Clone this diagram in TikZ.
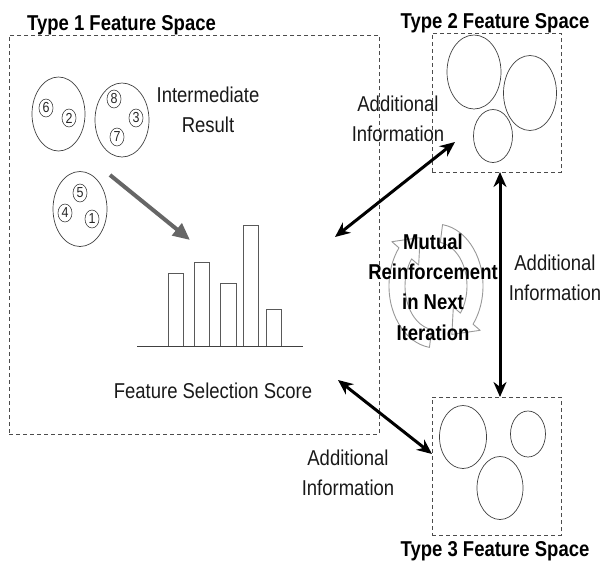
\documentclass[tikz,border=0pt]{standalone}
\usepackage{fontspec}
\setmainfont[FakeStretch=0.86]{Liberation Sans}
\usetikzlibrary{arrows.meta,shapes.geometric}
\tikzset{
  fsbox/.style={draw=black!70, dash pattern=on 4pt off 3pt, line width=0.8pt, minimum width=#1, inner sep=0pt},
  grp/.style={draw=black!75, ellipse, line width=0.7pt, inner sep=0pt},
  num/.style={draw=black!75, ellipse, line width=0.6pt, inner sep=0pt, minimum width=14pt, minimum height=18pt, font=\fontsize{14.5}{14.5}\selectfont, text=black!85},
  lbl/.style={font=\fontsize{21.5}{30}\selectfont, text=black!90, align=center, inner sep=0pt},
  ttl/.style={font=\bfseries\fontsize{21.5}{26}\selectfont, text=black, inner sep=0pt, anchor=base},
  barst/.style={draw=black!65, line width=0.8pt},
  dblarrow/.style={{Stealth[length=15pt,width=13pt]}-{Stealth[length=15pt,width=13pt]}, line width=3pt, black},
  grayarrow/.style={-{Triangle[length=17pt,width=15pt]}, line width=4pt, black!60},
  cyc/.style={draw=black!40, fill=white, line width=0.9pt, line join=round}
}
\begin{document}
\begin{tikzpicture}[x=1pt,y=-1pt]
\useasboundingbox (0,0) rectangle (603,565);

% feature space boxes
\node[fsbox=370pt, minimum height=399pt] (t1) at (194,234.5) {};
\node[fsbox=129pt, minimum height=139pt] (t2) at (496.5,102.5) {};
\node[fsbox=129pt, minimum height=138pt] (t3) at (496.5,466) {};

% titles
\node[ttl] (ti1) at (121.5,30) {Type 1 Feature Space};
\node[ttl] (ti2) at (495,28) {Type 2 Feature Space};
\node[ttl] (ti3) at (495,556) {Type 3 Feature Space};

% type 1 groups
\node[grp, minimum width=53pt, minimum height=74pt] (ga) at (58.5,114) {};
\node[grp, minimum width=54pt, minimum height=74pt] (gb) at (122,120) {};
\node[grp, minimum width=54pt, minimum height=75pt] (gc) at (80,209) {};
\node[num] (n6) at (46,108) {6};
\node[num] (n2) at (69,118) {2};
\node[num] (n8) at (114,99) {8};
\node[num] (n3) at (136,118) {3};
\node[num] (n7) at (117,137) {7};
\node[num] (n5) at (80,193) {5};
\node[num] (n4) at (65,213) {4};
\node[num] (n1) at (92,219) {1};

\node[lbl, anchor=base] (ir) at (208,132) {Intermediate\\Result};

% bars
\draw[barst] (168,346) rectangle (183,273);
\draw[barst] (194,346) rectangle (209,262);
\draw[barst] (220,346) rectangle (236,283);
\draw[barst] (243,346) rectangle (258,225);
\draw[barst] (266,346) rectangle (281,309);
\draw[line width=0.9pt, black!75] (137,346) -- (303,346);
\node[lbl, anchor=base] (fss) at (213,398) {Feature Selection Score};

% gray arrow
\coordinate (gs) at (110,175);
\coordinate (ge) at (190,240);
\draw[grayarrow] (gs) -- (ge);

% type 2 groups
\node[grp, minimum width=54pt, minimum height=74pt] (e21) at (474,72) {};
\node[grp, minimum width=53pt, minimum height=75pt] (e22) at (530,93) {};
\node[grp, minimum width=39pt, minimum height=53pt] (e23) at (493,136) {};

% type 3 groups
\node[grp, minimum width=47pt, minimum height=63pt] (e31) at (463,437) {};
\node[grp, minimum width=35pt, minimum height=46pt] (e32) at (528,434) {};
\node[grp, minimum width=46pt, minimum height=63pt] (e33) at (500,488) {};

% cycle arrows
\def\cx{436}\def\cy{286}
\draw[cyc] ({\cx+47*cos(98)},{\cy+62*sin(98)}) arc[start angle=98,end angle=218,x radius=47,y radius=62]
  -- ({\cx+56*cos(218)},{\cy+72*sin(218)})
  -- ({\cx+39*cos(246)},{\cy+53*sin(246)})
  -- ({\cx+22*cos(218)},{\cy+34*sin(218)})
  -- ({\cx+31*cos(218)},{\cy+44*sin(218)})
  arc[start angle=218,end angle=98,x radius=31,y radius=44] -- cycle;
\draw[cyc] ({\cx+47*cos(278)},{\cy+62*sin(278)}) arc[start angle=278,end angle=398,x radius=47,y radius=62]
  -- ({\cx+56*cos(398)},{\cy+72*sin(398)})
  -- ({\cx+39*cos(426)},{\cy+53*sin(426)})
  -- ({\cx+22*cos(398)},{\cy+34*sin(398)})
  -- ({\cx+31*cos(398)},{\cy+44*sin(398)})
  arc[start angle=398,end angle=278,x radius=31,y radius=44] -- cycle;
\node[lbl, font=\bfseries\fontsize{21.5}{30.3}\selectfont, text=black, anchor=base] (mr) at (433,340)
  {Mutual\\Reinforcement\\in Next\\Iteration};

% connectors
\coordinate (p1a) at (335,237);
\coordinate (p2a) at (455,142);
\coordinate (p1b) at (338,380);
\coordinate (p3b) at (432,454);
\coordinate (p2c) at (500,172);
\coordinate (p3c) at (500,397);
\draw[dblarrow] (p1a) -- (p2a);
\draw[dblarrow] (p1b) -- (p3b);
\draw[dblarrow] (p2c) -- (p3c);

% labels
\node[lbl, anchor=base] (ad1) at (398,141) {Additional\\Information};
\node[lbl, anchor=base] (ad2) at (555,300) {Additional\\Information};
\node[lbl, anchor=base] (ad3) at (348,495) {Additional\\Information};
\end{tikzpicture}
\end{document}
